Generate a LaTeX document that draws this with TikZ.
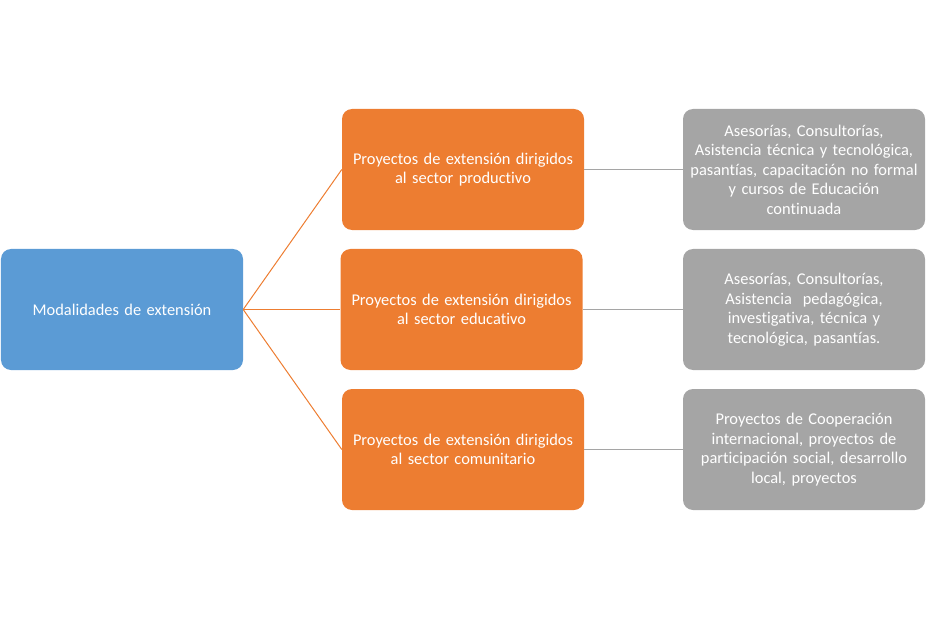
\documentclass[tikz,border=0pt]{standalone}
\usepackage{fontspec}
\setmainfont[Ligatures={NoCommon}]{Carlito}
\definecolor{cblue}{HTML}{5B9BD5}
\definecolor{corange}{HTML}{ED7D31}
\definecolor{cgray}{HTML}{A5A5A5}
\begin{document}
\begin{tikzpicture}[x=1bp,y=-1bp,
  box/.style={rounded corners=10bp,minimum width=242bp,minimum height=121bp,inner sep=1bp,
    text=white,align=center,font=\fontsize{16.4bp}{19.5bp}\selectfont,text width=240bp},
  rootbox/.style={box,fill=cblue},
  projbox/.style={box,fill=corange},
  infobox/.style={box,fill=cgray},
  olink/.style={draw=corange,line width=1bp},
  glink/.style={draw=cgray,line width=1bp}]
\useasboundingbox (0,0) rectangle (935,618);
\node[rootbox] (root) at (122,309.5) {Modalidades de extensión};
\node[projbox] (p1) at (463,169.5) {Proyectos de extensión dirigidos\\al sector productivo};
\node[projbox] (p2) at (461.5,309.5) {Proyectos de extensión dirigidos\\al sector educativo};
\node[projbox] (p3) at (463,449.5) {Proyectos de extensión dirigidos\\al sector comunitario};
\node[infobox] (g1) at (804,169.5) {Asesorías, Consultorías,\\Asistencia técnica y tecnológica,\\pasantías, capacitación no formal\\y cursos de Educación\\continuada};
\node[infobox] (g2) at (804,309.5) {Asesorías, Consultorías,\\Asistencia\ \ pedagógica,\\investigativa, técnica y\\tecnológica,\ pasantías.};
\node[infobox] (g3) at (804,449.5) {Proyectos de Cooperación\\internacional, proyectos de\\participación social, desarrollo\\local, proyectos};
\draw[olink] (root.east) -- (p1.west);
\draw[olink] (root.east) -- (p2.west);
\draw[olink] (root.east) -- (p3.west);
\draw[glink] (p1.east) -- (g1.west);
\draw[glink] (p2.east) -- (g2.west);
\draw[glink] (p3.east) -- (g3.west);
\end{tikzpicture}
\end{document}
